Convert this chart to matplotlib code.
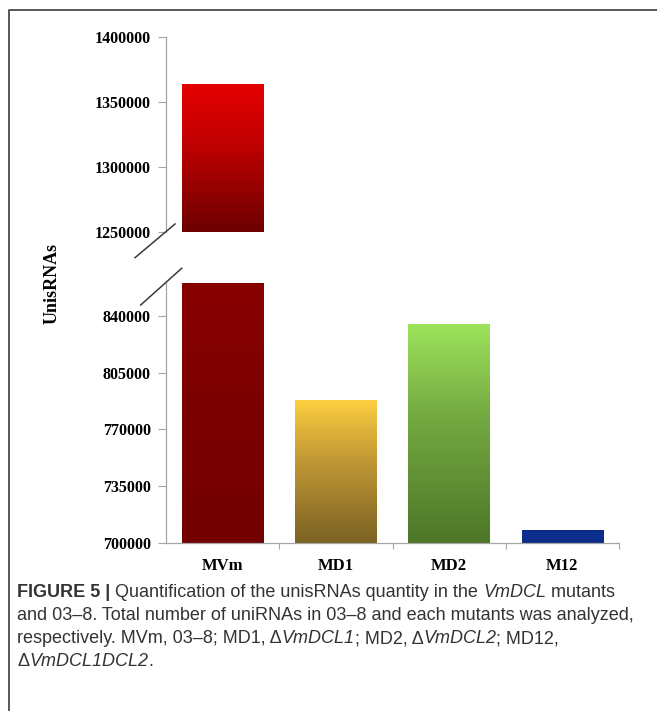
import numpy as np
import matplotlib.pyplot as plt
from matplotlib.colors import LinearSegmentedColormap
from matplotlib.lines import Line2D

# ---- data -------------------------------------------------------------
categories = ["MVm", "MD1", "MD2", "M12"]
unisrnas = [1364000, 788000, 835000, 708000]

lower_ticks = [700000, 735000, 770000, 805000, 840000]
upper_ticks = [1250000, 1300000, 1350000, 1400000]
lower_range = (700000, 860400)
upper_range = (1250000, 1400000)

caption_lines = [
    [("FIGURE 5 |", "bold"), (" Quantification of the unisRNAs quantity in the ", "normal"),
     ("VmDCL", "italic"), (" mutants", "normal")],
    [("and 03\u20138. Total number of uniRNAs in 03\u20138 and each mutants was analyzed,", "normal")],
    [("respectively. MVm, 03\u20138; MD1, \u0394", "normal"), ("VmDCL1", "italic"),
     ("; MD2, \u0394", "normal"), ("VmDCL2", "italic"), ("; MD12,", "normal")],
    [("\u0394", "normal"), ("VmDCL1DCL2", "italic"), (".", "normal")],
]

# ---- styles -----------------------------------------------------------
# gradient stops (bottom, middle, top) for each bar in each panel
lower_colors = [
    ("#730000", "#7e0000", "#880000"),
    ("#7a6222", "#c49a35", "#fdcf40"),
    ("#4d7628", "#76ac43", "#9de35b"),
    ("#0b2a86", "#0e2f8c", "#0a2c8e"),
]
upper_colors = [("#6c0000", "#c00000", "#e50000")]

W, H = 657, 711
fig = plt.figure(figsize=(W / 100, H / 100), dpi=100)
fig.patch.set_facecolor("white")


def fx(px):
    return px / W


def fy(py):
    return 1 - py / H


ax_left, ax_right = 166, 619
ax_lo = fig.add_axes([fx(ax_left), fy(542.7), (ax_right - ax_left) / W, (542.7 - 283) / H])
ax_hi = fig.add_axes([fx(ax_left), fy(231.7), (ax_right - ax_left) / W, (231.7 - 37.3) / H])

tick_font = dict(family="Liberation Serif", weight="bold", size=11.5)
spine_color = "#a6a6a6"
bar_width = 0.72


def gradient_bar(ax, x, value, stops, ylim):
    rect = ax.bar([x], [value], width=bar_width, color="none",
                  edgecolor="none", zorder=2)[0]
    x0, x1 = rect.get_x(), rect.get_x() + rect.get_width()
    y0 = max(rect.get_y(), ylim[0])
    y1 = min(rect.get_y() + rect.get_height(), ylim[1])
    if y1 <= y0:
        return
    cmap = LinearSegmentedColormap.from_list("bar", list(zip([0.0, 0.6, 1.0], stops)))
    grad = np.linspace(0, 1, 256).reshape(-1, 1)
    im = ax.imshow(grad, cmap=cmap, extent=[x0, x1, y0, y1], origin="lower",
                   aspect="auto", interpolation="bilinear", zorder=2)
    im.set_clip_path(rect)


xs = np.arange(len(categories))
for i, v in enumerate(unisrnas):
    gradient_bar(ax_lo, xs[i], v, lower_colors[i], lower_range)
gradient_bar(ax_hi, xs[0], unisrnas[0], upper_colors[0], upper_range)

for ax, rng, ticks in ((ax_lo, lower_range, lower_ticks), (ax_hi, upper_range, upper_ticks)):
    ax.set_xlim(-0.5, len(categories) - 0.5)
    ax.set_ylim(*rng)
    ax.set_yticks(ticks)
    ax.set_yticklabels([str(t) for t in ticks], fontdict=tick_font)
    ax.tick_params(axis="y", direction="out", length=6, width=0.8,
                   color=spine_color, pad=5, labelcolor="black")
    for s in ("top", "right"):
        ax.spines[s].set_visible(False)
    ax.spines["left"].set_color(spine_color)
    ax.spines["left"].set_linewidth(0.9)
    ax.set_facecolor("none")

# upper panel: no category axis
ax_hi.spines["bottom"].set_visible(False)
ax_hi.set_xticks([])

# lower panel: category labels, tick marks between categories
ax_lo.spines["bottom"].set_color(spine_color)
ax_lo.spines["bottom"].set_linewidth(0.9)
ax_lo.set_xticks(xs)
ax_lo.set_xticklabels(categories, fontdict=dict(family="Liberation Serif", weight="bold", size=12))
ax_lo.set_xticks(np.arange(0.5, len(categories), 1.0), minor=True)
ax_lo.tick_params(axis="x", which="major", length=0, pad=11)
ax_lo.tick_params(axis="x", which="minor", direction="out", length=4,
                  width=0.8, color=spine_color)

# axis title
fig.text(fx(52), fy(283), "UnisRNAs", rotation=90, ha="center", va="center",
         family="Liberation Serif", weight="bold", size=13)

# break marks
for (xa, ya), (xb, yb) in (((135, 257.7), (175, 224)), ((140.7, 305), (181.7, 268.3))):
    fig.add_artist(Line2D([fx(xa), fx(xb)], [fy(ya), fy(yb)], color="#3a3a3a",
                          lw=1.1, transform=fig.transFigure))

# frame around the figure panel
fig.add_artist(Line2D([fx(8.5), fx(8.5), 1.0], [0.0, fy(10), fy(10)],
                      color="#4a4a4a", lw=1.3, transform=fig.transFigure))

# caption, drawn piece by piece so styles can mix within a line
renderer = fig.canvas.get_renderer()
cap_size = 13
baselines = [597, 620, 643, 666]
for pieces, base in zip(caption_lines, baselines):
    x = fx(17)
    for text, style in pieces:
        kw = dict(family="Liberation Sans", size=cap_size, color="#333333",
                  ha="left", va="baseline")
        if style == "bold":
            kw["weight"] = "bold"
        elif style == "italic":
            kw["style"] = "italic"
        t = fig.text(x, fy(base), text, **kw)
        bb = t.get_window_extent(renderer=renderer)
        x += bb.width / W

fig.savefig("out.png", dpi=100, facecolor="white")
